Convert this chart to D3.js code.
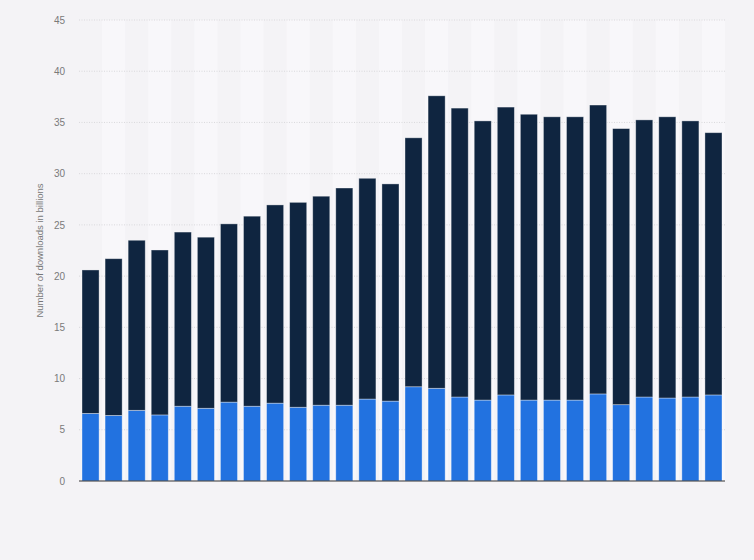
<!DOCTYPE html>
<html lang="en">
<head>
    <meta charset="UTF-8">
    <title>Number of downloads in billions</title>
    <script src="https://d3js.org/d3.v7.min.js"></script>
    <style>
        body { margin: 0; background: #f4f3f6; }
        svg { display: block; font-family: "Liberation Sans", Arial, sans-serif; }
        .tick text { fill: #7a7a7a; font-size: 10px; }
        .axis-title { fill: #777; font-size: 9.5px; }
    </style>
</head>
<body>
    <svg width="754" height="560"></svg>
    <script>
        const width = 754;
        const height = 560;
        const margin = {top: 20, right: 29, bottom: 79, left: 79};

        // Quarters (labels are not shown on the chart)
        const categories = [
            "Q1 2016", "Q2 2016", "Q3 2016", "Q4 2016",
            "Q1 2017", "Q2 2017", "Q3 2017", "Q4 2017",
            "Q1 2018", "Q2 2018", "Q3 2018", "Q4 2018",
            "Q1 2019", "Q2 2019", "Q3 2019", "Q4 2019",
            "Q1 2020", "Q2 2020", "Q3 2020", "Q4 2020",
            "Q1 2021", "Q2 2021", "Q3 2021", "Q4 2021",
            "Q1 2022", "Q2 2022", "Q3 2022", "Q4 2022"
        ];

        // bottom segment (blue)
        const appStore = [
            6.6, 6.4, 6.9, 6.45, 7.3, 7.1, 7.7, 7.3, 7.6, 7.2, 7.4, 7.4, 8.0, 7.8,
            9.2, 9.05, 8.2, 7.9, 8.4, 7.9, 7.9, 7.9, 8.5, 7.45, 8.2, 8.1, 8.2, 8.4
        ];

        // top segment (navy)
        const googlePlay = [
            14.0, 15.3, 16.6, 16.1, 17.0, 16.7, 17.4, 18.55, 19.35, 20.0, 20.4, 21.2, 21.55, 21.2,
            24.3, 28.55, 28.2, 27.25, 28.1, 27.9, 27.65, 27.65, 28.2, 26.95, 27.05, 27.45, 26.95, 25.6
        ];

        const yTicks = [0, 5, 10, 15, 20, 25, 30, 35, 40, 45];

        const seriesKeys = ["appStore", "googlePlay"];
        const colors = {appStore: "#2272e0", googlePlay: "#0f2540"};

        const rows = categories.map((c, i) => ({cat: c, appStore: appStore[i], googlePlay: googlePlay[i]}));
        const stacked = d3.stack().keys(seriesKeys)(rows);

        const svg = d3.select("svg");

        const x = d3.scaleBand()
            .domain(categories)
            .range([margin.left, width - margin.right])
            .paddingInner(0.26)
            .paddingOuter(0.13);

        const y = d3.scaleLinear()
            .domain([0, 45])
            .range([height - margin.bottom, margin.top]);

        // alternating column stripes
        svg.append("g")
            .selectAll("rect")
            .data(categories.filter((c, i) => i % 2 === 1))
            .enter().append("rect")
            .attr("x", d => x(d) - x.step() * x.paddingInner() / 2)
            .attr("y", margin.top)
            .attr("width", x.step())
            .attr("height", height - margin.bottom - margin.top)
            .attr("fill", "#f8f7fa");

        // gridlines
        svg.append("g")
            .selectAll("line")
            .data(yTicks.filter(t => t > 0))
            .enter().append("line")
            .attr("x1", margin.left)
            .attr("x2", width - margin.right)
            .attr("y1", d => y(d))
            .attr("y2", d => y(d))
            .attr("stroke", "#d9d8dc")
            .attr("stroke-width", 1)
            .attr("stroke-dasharray", "1,1.5");

        // y axis labels
        const yAxis = svg.append("g")
            .attr("transform", `translate(${margin.left - 14},0)`)
            .call(d3.axisLeft(y).tickValues(yTicks).tickSize(0).tickPadding(0));
        yAxis.select(".domain").remove();

        svg.append("text")
            .attr("class", "axis-title")
            .attr("transform", `translate(43,${y(22.5)}) rotate(-90)`)
            .attr("text-anchor", "middle")
            .text("Number of downloads in billions");

        // stacked bars
        svg.append("g")
            .selectAll("g")
            .data(stacked)
            .enter().append("g")
            .attr("fill", d => colors[d.key])
            .selectAll("rect")
            .data(d => d)
            .enter().append("rect")
            .attr("x", d => x(d.data.cat))
            .attr("y", d => y(d[1]))
            .attr("width", x.bandwidth())
            .attr("height", d => y(d[0]) - y(d[1]))
            .attr("stroke", "#ffffff")
            .attr("stroke-opacity", 0.45)
            .attr("stroke-width", 0.8);

        // baseline
        svg.append("line")
            .attr("x1", margin.left)
            .attr("x2", width - margin.right)
            .attr("y1", y(0))
            .attr("y2", y(0))
            .attr("stroke", "#333")
            .attr("stroke-width", 1.2);
    </script>
</body>
</html>
